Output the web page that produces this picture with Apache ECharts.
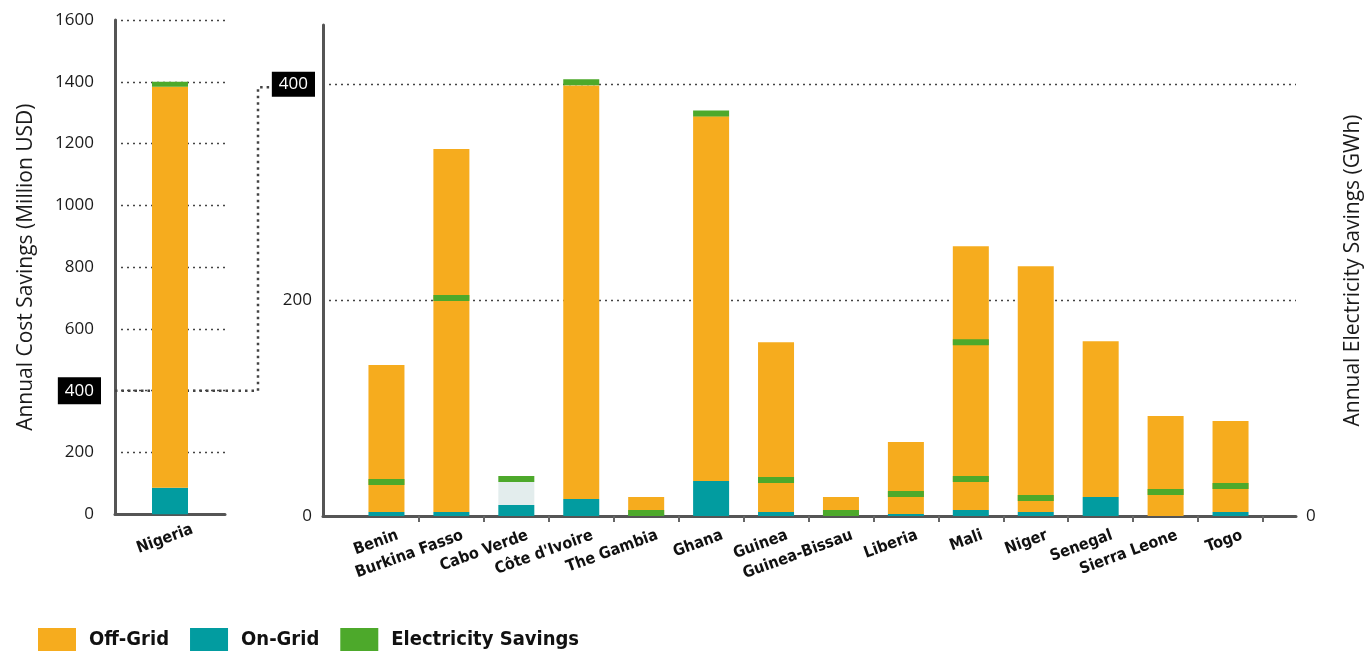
<!DOCTYPE html>
<html><head><meta charset="utf-8">
<script src="https://cdn.jsdelivr.net/npm/echarts@6/dist/echarts.min.js"></script>
<style>html,body{margin:0;padding:0;background:#fff}#c{width:1372px;height:651px}</style>
</head><body><div id="c"></div>
<script>
// ---- data ----
const nigeriaCategory = ['Nigeria'];
const nigeriaOnGrid = [86];
const nigeriaOffGrid = [1298];
const nigeriaElectricity = [1392];

const countries = ['Benin','Burkina Fasso','Cabo Verde',"Côte d'Ivoire",'The Gambia','Ghana','Guinea','Guinea-Bissau','Liberia','Mali','Niger','Senegal','Sierra Leone','Togo'];
const onGrid   = [3.7, 3.7, 10.2, 15.7, 2, 32.4, 3.7, 2, 1.9, 5.6, 3.7, 17.6, 0, 3.7];
const offGrid  = [136.3, 336.3, 0, 383.3, 15.6, 338, 157.3, 15.6, 66.6, 244.4, 227.8, 144.4, 92.6, 84.3];
const caboVerdeOther = [null, null, 21.3, null, null, null, null, null, null, null, null, null, null, null];
const electricitySavings = [31.5, 202, 34.3, 402, 2.8, 373, 33.3, 2.8, 20.4, 161, 16.7, null, 22.2, 27.8];
const electricitySavingsSecond = [null, null, null, null, null, null, null, null, null, 34.3, null, null, null, null];

const leftTicks = [0, 200, 400, 600, 800, 1000, 1200, 1400, 1600];
const rightTicks = [0, 200, 400];
const rightMax = 455;
const highlightTick = 400;

// ---- style ----
const C_OFF = '#F6AC1E', C_ON = '#029CA0', C_EL = '#4DA92B', C_OTHER = '#E3EDED';
const AXIS = '#555';
const NUMFONT = "'Open Sans', sans-serif";
const CONDFONT = "'Liberation Sans Narrow', 'DejaVu Sans Condensed', sans-serif";

const chart = echarts.init(document.getElementById('c'), null, {renderer: 'canvas'});

const gridL = {left: 115, top: 20, width: 110, bottom: 136.7};
const gridW = {left: 323, top: 25, width: 973, bottom: 135};
const gridN = {left: 354, top: 25, width: 909, bottom: 135};

function tickFmt() {
  return v => v === highlightTick ? '{box|' + v + '}' : '{n|' + v + '}';
}
function richFor(padR, boxPad) {
  return {
    n: {fontFamily: NUMFONT, fontSize: 17, color: '#1a1a1a', padding: [0, padR, 0, 0]},
    box: {fontFamily: NUMFONT, fontSize: 17, color: '#fff', backgroundColor: '#000', padding: boxPad}
  };
}
const dotted = {show: true, showMinLine: false, lineStyle: {color: '#444', type: [2, 4], width: 1.3}};

const catLabel = {rotate: 20, margin: 23, fontFamily: CONDFONT, fontWeight: 'bold', fontSize: 16, color: '#111', interval: 0, padding: [0, -12, 0, 0]};
const nigLabel = Object.assign({}, catLabel, {padding: [0, -24, 0, 0]});

chart.setOption({
  animation: false,
  grid: [gridL, gridW, gridN],
  legend: {
    data: ['Off-Grid', 'On-Grid', 'Electricity Savings'],
    left: 38, top: 628, padding: 0, itemWidth: 38, itemHeight: 24, itemGap: 21, icon: 'rect',
    textStyle: {fontFamily: CONDFONT, fontWeight: 'bold', fontSize: 20, color: '#111', padding: [8, 0, 0, 8]}
  },
  xAxis: [
    {type: 'category', gridIndex: 0, data: nigeriaCategory,
     axisLine: {lineStyle: {color: AXIS, width: 3}}, axisTick: {show: false}, axisLabel: nigLabel},
    {type: 'category', gridIndex: 1, data: [''],
     axisLine: {lineStyle: {color: AXIS, width: 3}}, axisTick: {show: false}, axisLabel: {show: false}},
    {type: 'category', gridIndex: 2, data: countries,
     axisLine: {show: false},
     axisTick: {show: true, length: 6, lineStyle: {color: '#666', width: 2}, interval: (i) => i !== 0},
     axisLabel: catLabel}
  ],
  yAxis: [
    {type: 'value', gridIndex: 0, min: leftTicks[0], max: leftTicks[leftTicks.length - 1], interval: leftTicks[1] - leftTicks[0],
     axisLine: {show: true, lineStyle: {color: AXIS, width: 3}}, axisTick: {show: false},
     axisLabel: {margin: 14, formatter: tickFmt(), rich: richFor(7, [5, 7, 5, 7])},
     splitLine: dotted,
     name: 'Annual Cost Savings (Million USD)', nameLocation: 'middle', nameGap: 78, nameRotate: 90,
     nameTextStyle: {fontFamily: NUMFONT, fontSize: 21, color: '#1a1a1a'}},
    {type: 'value', gridIndex: 1, min: rightTicks[0], max: rightMax, interval: rightTicks[1] - rightTicks[0],
     axisLine: {show: true, lineStyle: {color: AXIS, width: 3}}, axisTick: {show: false},
     axisLabel: {margin: 8, showMaxLabel: false, formatter: tickFmt(), rich: richFor(3, [4, 7, 4, 7])},
     splitLine: Object.assign({}, dotted, {showMaxLine: false})},
    {type: 'value', gridIndex: 1, position: 'right', min: rightTicks[0], max: rightMax, interval: rightTicks[1] - rightTicks[0],
     axisLine: {show: false}, axisTick: {show: false}, splitLine: {show: false},
     axisLabel: {margin: 10, showMaxLabel: false, formatter: v => v === 0 ? '0' : '', fontFamily: NUMFONT, fontSize: 17, color: '#1a1a1a'},
     name: 'Annual Electricity Savings (GWh)', nameLocation: 'middle', nameGap: 47, nameRotate: 90,
     nameTextStyle: {fontFamily: NUMFONT, fontSize: 21, color: '#1a1a1a'}},
    {type: 'value', gridIndex: 2, min: rightTicks[0], max: rightMax, show: false}
  ],
  series: [
    {name: 'On-Grid', type: 'bar', xAxisIndex: 0, yAxisIndex: 0, stack: 'n', barWidth: 36, data: nigeriaOnGrid, itemStyle: {color: C_ON}, z: 3},
    {name: 'Off-Grid', type: 'bar', xAxisIndex: 0, yAxisIndex: 0, stack: 'n', barWidth: 36, data: nigeriaOffGrid, itemStyle: {color: C_OFF}, z: 3},
    {name: 'Electricity Savings', type: 'scatter', xAxisIndex: 0, yAxisIndex: 0, symbol: 'rect', symbolSize: [36, 5], data: nigeriaElectricity, itemStyle: {color: C_EL, opacity: 1}, z: 4},
    {name: 'On-Grid', type: 'bar', xAxisIndex: 2, yAxisIndex: 3, stack: 'c', barWidth: 36, data: onGrid, itemStyle: {color: C_ON}, z: 3},
    {name: 'Off-Grid', type: 'bar', xAxisIndex: 2, yAxisIndex: 3, stack: 'c', barWidth: 36, data: offGrid, itemStyle: {color: C_OFF}, z: 3},
    {name: 'Other', type: 'bar', xAxisIndex: 2, yAxisIndex: 3, stack: 'c', barWidth: 36, data: caboVerdeOther, itemStyle: {color: C_OTHER}, z: 3},
    {name: 'Electricity Savings', type: 'scatter', xAxisIndex: 2, yAxisIndex: 3, symbol: 'rect', symbolSize: [36, 6], data: electricitySavings, itemStyle: {color: C_EL, opacity: 1}, z: 4},
    {name: 'Electricity Savings', type: 'scatter', xAxisIndex: 2, yAxisIndex: 3, symbol: 'rect', symbolSize: [36, 6], data: electricitySavingsSecond, itemStyle: {color: C_EL, opacity: 1}, z: 4}
  ]
});

// connector between the two panels' highlighted 400 ticks
const yL = chart.convertToPixel({yAxisIndex: 0}, highlightTick);
const yR = chart.convertToPixel({yAxisIndex: 1}, highlightTick) + 3;
const cornerX = 258;
chart.setOption({
  graphic: [{
    type: 'polyline', z: 1,
    shape: {points: [[gridL.left, yL], [cornerX, yL], [cornerX, yR], [270, yR]]},
    style: {stroke: '#444', lineWidth: 2.5, lineDash: [2.5, 4], fill: null}
  }]
});
</script></body></html>
